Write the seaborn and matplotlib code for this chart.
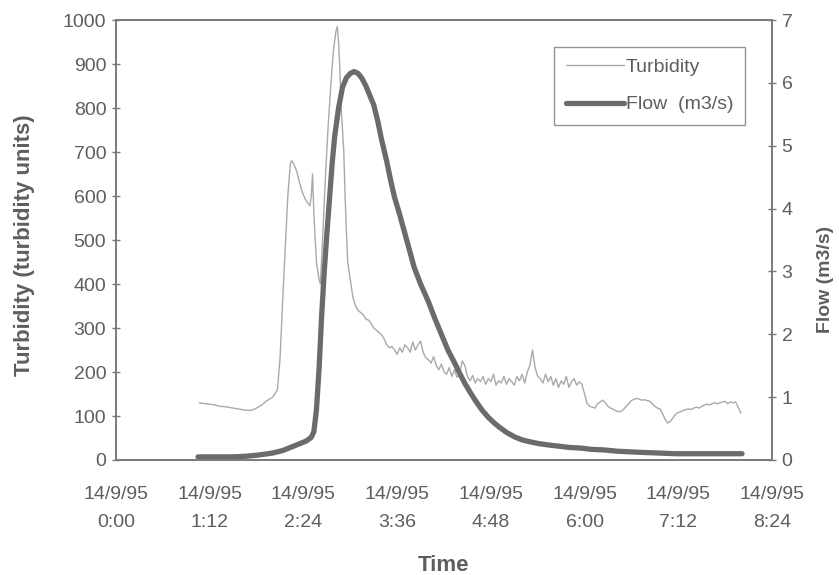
import numpy as np
import pandas as pd
import seaborn as sns
import matplotlib.pyplot as plt

#turbidity readings (minutes after 14/9/95 0:00, turbidity units)
turb_min = [64, 68, 72, 76, 80, 84, 88, 92, 96, 100, 104, 108, 112, 116, 120, 122, 124, 126, 128, 130,
            132, 134, 135, 137, 139, 141, 143, 145, 147, 149, 150, 151, 152, 154, 156, 157, 159, 161, 163, 165,
            167, 169, 170, 171, 172, 173, 175, 176, 177, 178, 180, 182, 184, 186, 188, 190, 192, 194, 196, 198,
            200, 202, 204, 206, 208, 210, 212, 214, 216, 218, 220, 222, 224, 226, 228, 230, 232, 234, 236, 238,
            240, 242, 244, 246, 248, 250, 252, 254, 256, 258, 260, 262, 264, 266, 268, 270, 272, 274, 276, 278,
            280, 282, 284, 286, 288, 290, 292, 294, 296, 298, 300, 302, 304, 306, 308, 310, 312, 314, 316, 318,
            320, 322, 324, 326, 328, 330, 332, 334, 336, 338, 340, 342, 344, 346, 348, 350, 352, 354, 356, 358,
            360, 362, 364, 366, 368, 370, 372, 374, 376, 378, 380, 382, 384, 386, 388, 390, 392, 394, 396, 398,
            400, 402, 404, 406, 408, 410, 412, 414, 416, 418, 420, 422, 424, 426, 428, 430, 432, 434, 436, 438,
            440, 442, 444, 446, 448, 450, 452, 454, 456, 458, 460, 462, 464, 466, 468, 470, 472, 474, 476, 478,
            480]
turbidity = [130, 128, 127, 125, 122, 121, 119, 117, 115, 113, 113, 118, 125, 135, 142, 150, 160, 230, 360, 480,
             600, 675, 680, 670, 655, 630, 610, 595, 585, 578, 600, 650, 560, 450, 410, 400, 520, 650, 760, 850,
             930, 975, 985, 950, 890, 800, 700, 600, 520, 450, 410, 370, 350, 340, 335, 330, 320, 318, 310, 300,
             295, 290, 285, 275, 262, 255, 258, 250, 240, 255, 245, 262, 255, 245, 268, 250, 262, 270, 245, 232,
             228, 220, 235, 215, 205, 218, 200, 195, 210, 190, 205, 188, 195, 225, 215, 190, 180, 192, 175, 185,
             178, 190, 172, 185, 178, 195, 170, 180, 175, 190, 172, 185, 178, 170, 190, 180, 195, 175, 200, 215,
             250, 210, 190, 185, 175, 195, 178, 190, 170, 185, 165, 180, 172, 190, 165, 178, 185, 170, 178, 172,
             150, 128, 122, 120, 118, 128, 132, 136, 130, 122, 118, 115, 112, 110, 110, 115, 122, 128, 135, 138,
             140, 138, 136, 137, 135, 134, 128, 122, 118, 116, 105, 92, 84, 88, 96, 104, 108, 110, 113, 115,
             116, 115, 118, 120, 118, 122, 125, 127, 125, 128, 130, 128, 130, 132, 133, 128, 132, 130, 132, 120,
             107]

#flow readings (minutes, m3/s)
flow_min = [63, 75, 90, 100, 110, 120, 128, 134, 140, 146, 150, 152, 154, 156, 158, 160, 162, 164, 166, 168,
            171, 174, 177, 180, 183, 186, 189, 192, 195, 198, 201, 204, 208, 211, 214, 218, 222, 226, 229, 234,
            240, 245, 250, 255, 260, 264, 268, 272, 276, 281, 286, 290, 294, 300, 306, 312, 318, 325, 332, 340,
            348, 357, 365, 375, 385, 395, 405, 418, 430, 444, 460, 470, 481]
flow = [0.05, 0.05, 0.05, 0.06, 0.08, 0.11, 0.15, 0.2, 0.25, 0.3, 0.36, 0.45, 0.8, 1.45, 2.3, 3.0, 3.6, 4.15, 4.7, 5.15,
        5.6, 5.93, 6.08, 6.15, 6.18, 6.15, 6.07, 5.95, 5.8, 5.65, 5.4, 5.1, 4.75, 4.45, 4.18, 3.9, 3.6, 3.3, 3.07, 2.8,
        2.52, 2.25, 2.0, 1.75, 1.55, 1.38, 1.22, 1.08, 0.95, 0.8, 0.68, 0.6, 0.53, 0.44, 0.37, 0.32, 0.29, 0.26, 0.24, 0.22,
        0.2, 0.19, 0.17, 0.16, 0.14, 0.13, 0.12, 0.11, 0.1, 0.1, 0.1, 0.1, 0.1]

tick_min = [0, 72, 144, 216, 288, 360, 432, 504]
tick_labels = ["14/9/95\n0:00", "14/9/95\n1:12", "14/9/95\n2:24", "14/9/95\n3:36",
               "14/9/95\n4:48", "14/9/95\n6:00", "14/9/95\n7:12", "14/9/95\n8:24"]

sns.set_theme(style="white")
plt.rcParams['font.family'] = ['Liberation Sans', 'DejaVu Sans']
text_col = "#5e5e5e"
spine_col = "#7a7a7a"

turb_df = pd.DataFrame({"minutes": turb_min, "turbidity": turbidity})
flow_df = pd.DataFrame({"minutes": flow_min, "flow": flow})

fig = plt.figure(figsize=(8.39, 5.75), dpi=100)
ax = fig.add_axes([0.1383, 0.2, 0.7818, 0.7652])
ax2 = ax.twinx()

sns.lineplot(data=turb_df, x="minutes", y="turbidity", ax=ax, color="#a9a9a9", linewidth=1.0,
             label="Turbidity", legend=False)
sns.lineplot(data=flow_df, x="minutes", y="flow", ax=ax2, color="#6b6b6b", linewidth=3.8,
             label="Flow  (m3/s)", legend=False)

ax.set_xlim(0, 504)
ax.set_ylim(0, 1000)
ax2.set_ylim(0, 7)
ax.set_xticks(tick_min)
ax.set_xticklabels(tick_labels, linespacing=1.85)
ax.set_yticks(range(0, 1001, 100))
ax2.set_yticks(range(0, 8))

for a in (ax, ax2):
    for s in a.spines.values():
        s.set_color(spine_col)
        s.set_linewidth(1.2)
    a.tick_params(direction="inout", length=6, width=1, color=spine_col,
                  labelsize=14, labelcolor=text_col, pad=4)
ax.tick_params(axis="x", pad=16)

ax.set_xlabel("Time", fontsize=16, fontweight="bold", color=text_col)
ax.set_ylabel("Turbidity (turbidity units)", fontsize=16, fontweight="bold", color=text_col)
ax2.set_ylabel("Flow (m3/s)", fontsize=14, fontweight="bold", color=text_col)
ax.xaxis.set_label_coords(0.5, -0.216)
ax.yaxis.set_label_coords(-0.123, 0.489)
ax2.yaxis.set_label_coords(1.069, 0.41)

h1, l1 = ax.get_legend_handles_labels()
h2, l2 = ax2.get_legend_handles_labels()
leg = ax2.legend(h1 + h2, l1 + l2, loc="upper right", bbox_to_anchor=(0.959, 0.9386),
                 borderaxespad=0, fontsize=14, frameon=True, fancybox=False, handlelength=3.0,
                 handletextpad=0.1, borderpad=0.6, labelspacing=1.0)
leg.get_frame().set_edgecolor(spine_col)
leg.get_frame().set_linewidth(1.0)
for t in leg.get_texts():
    t.set_color(text_col)

fig.savefig("out.png", dpi=100)
